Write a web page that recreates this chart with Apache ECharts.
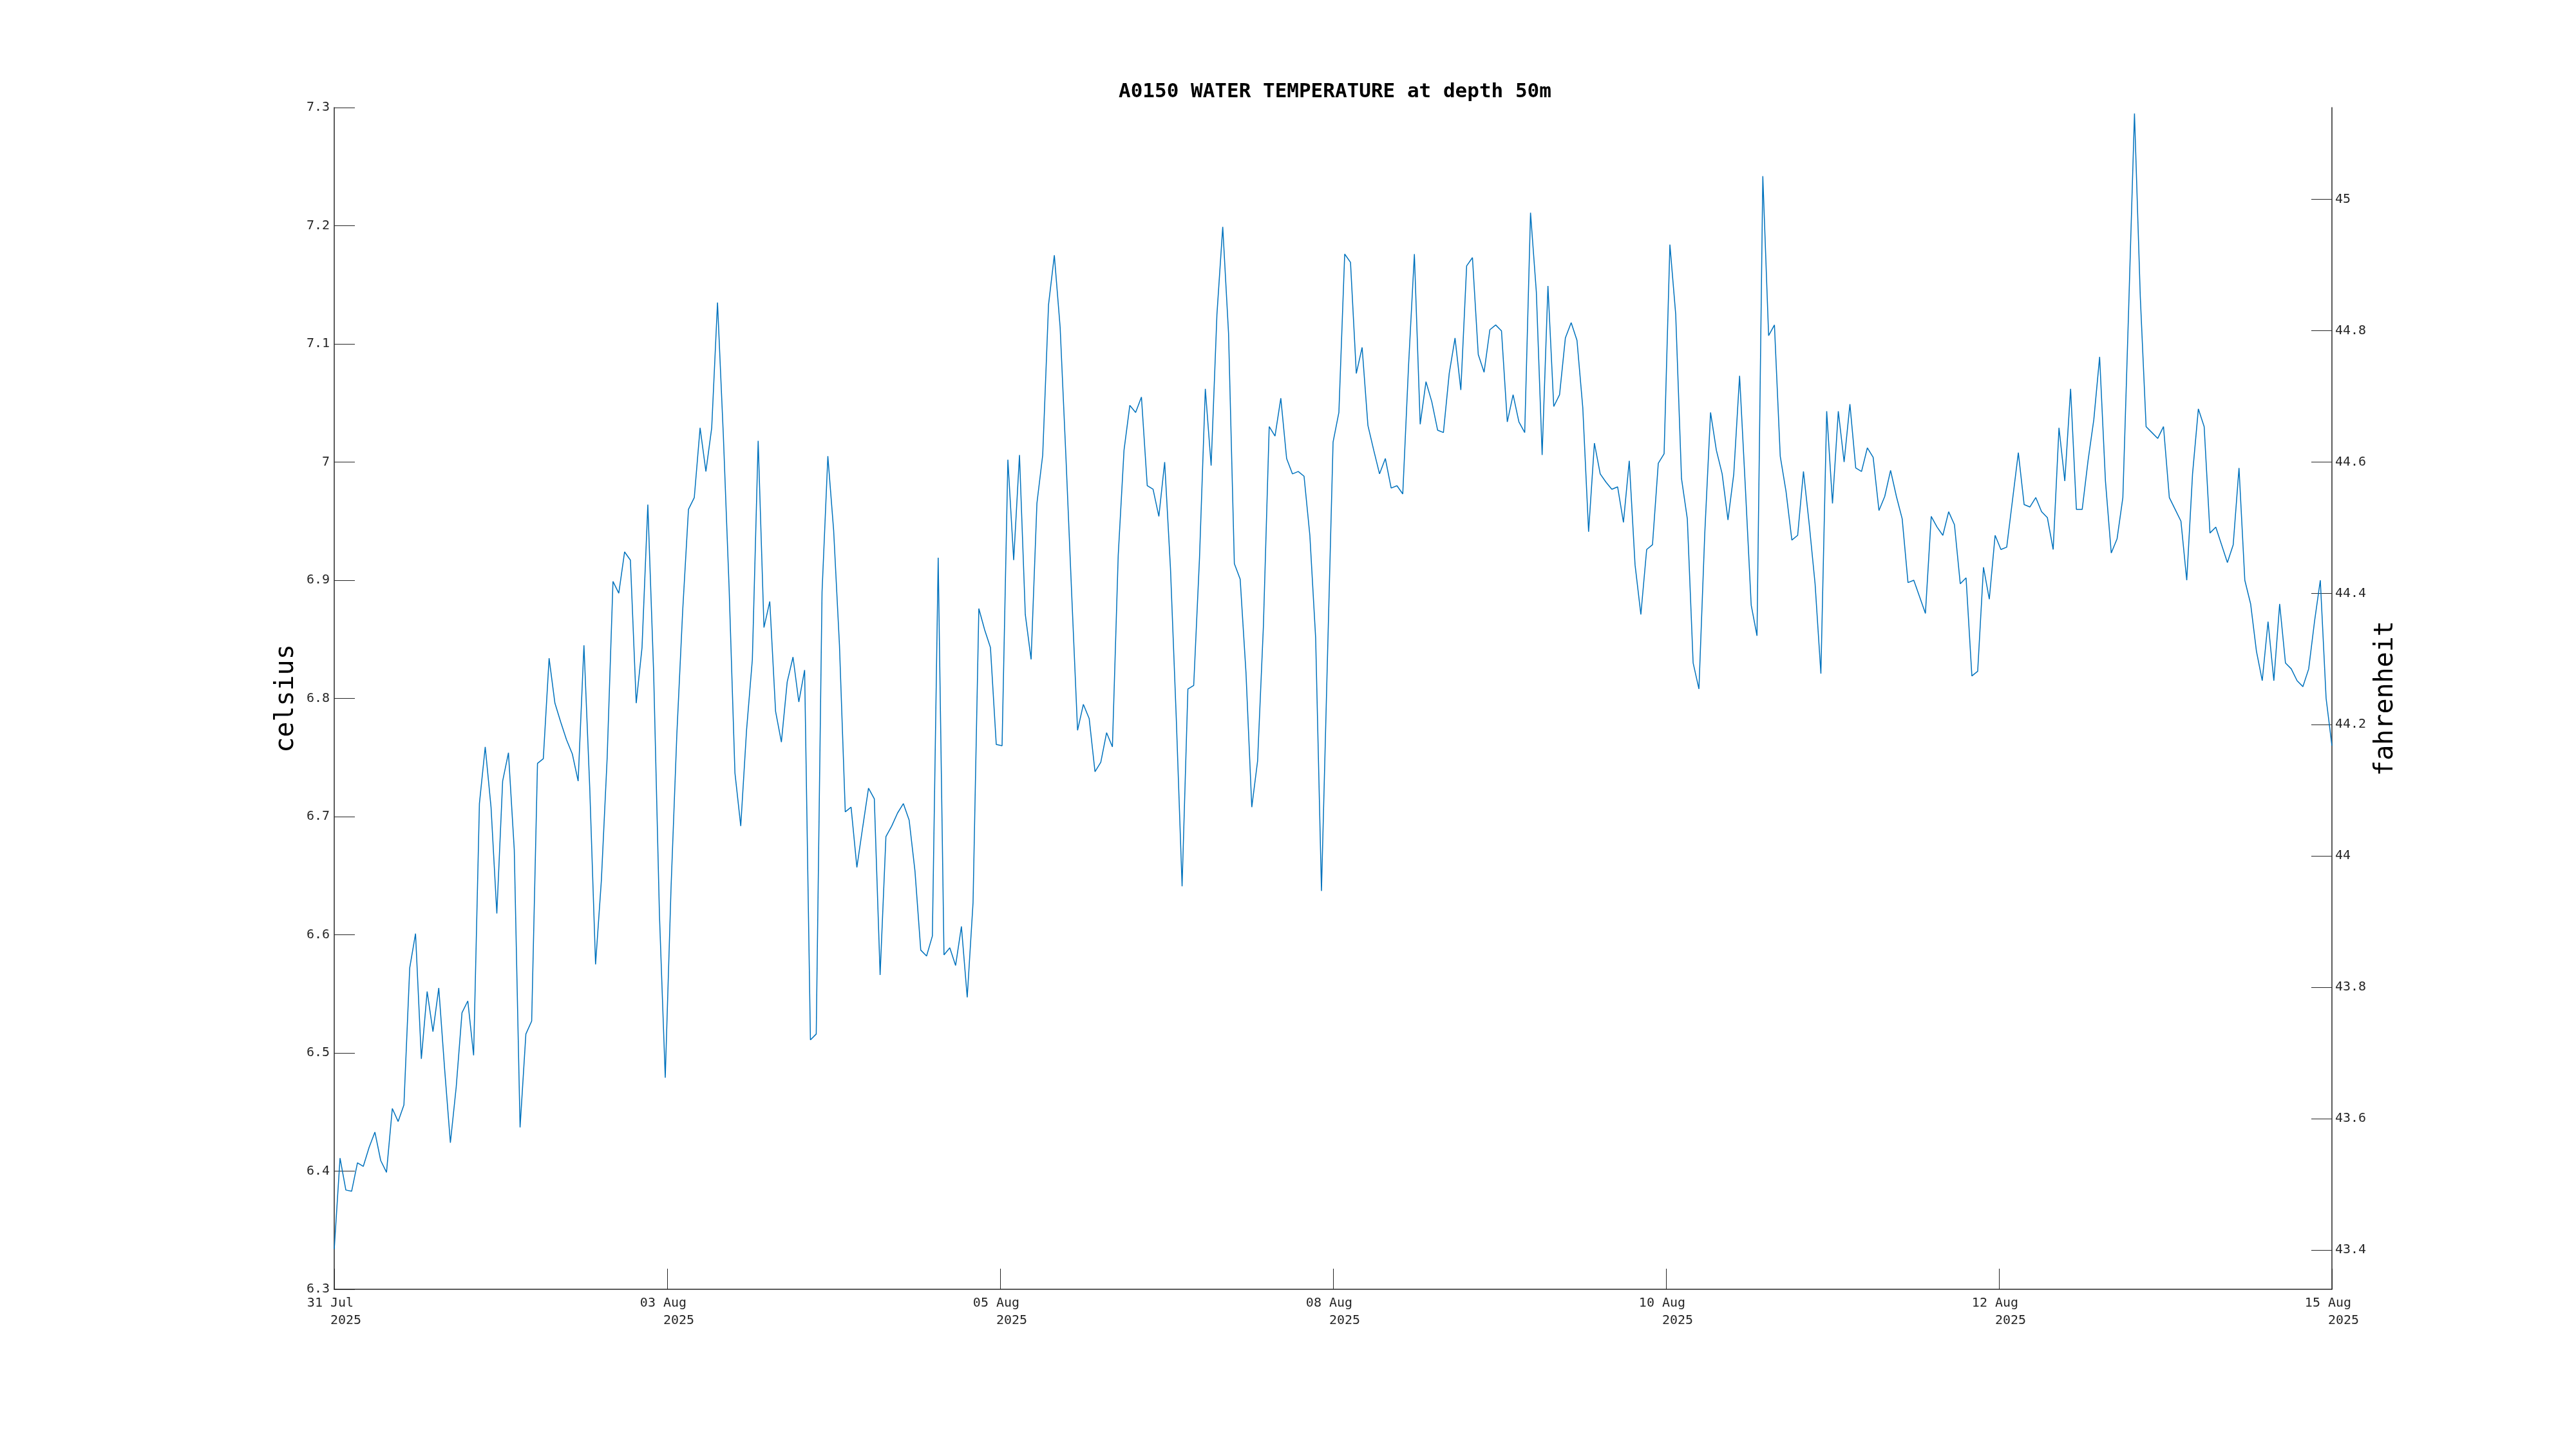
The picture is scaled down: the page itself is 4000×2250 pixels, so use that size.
<!DOCTYPE html>
<html>
<head>
<meta charset="utf-8">
<script src="https://cdn.jsdelivr.net/npm/echarts@6/dist/echarts.min.js"></script>
<style>
html,body{margin:0;padding:0;background:#fff;}
#chart{width:4000px;height:2250px;}
</style>
</head>
<body>
<div id="chart"></div>
<script>
const titleText = 'A0150 WATER TEMPERATURE at depth 50m';
const tickLabels = ['31 Jul\n2025', '03 Aug\n2025', '05 Aug\n2025', '08 Aug\n2025', '10 Aug\n2025', '12 Aug\n2025', '15 Aug\n2025'];
const fahrenheitTicks = [43.4, 43.6, 43.8, 44, 44.2, 44.4, 44.6, 44.8, 45];
const celsiusMin = 6.3;
const celsiusMax = 7.3;
const tempC = [
6.334,6.411,6.384,6.383,6.407,6.404,6.420,6.433,6.409,6.399,
6.453,6.442,6.456,6.572,6.601,6.495,6.552,6.518,6.555,6.487,
6.424,6.471,6.534,6.544,6.498,6.711,6.759,6.708,6.618,6.730,
6.754,6.672,6.437,6.516,6.527,6.745,6.749,6.834,6.796,6.780,
6.765,6.753,6.730,6.845,6.724,6.575,6.646,6.750,6.899,6.889,
6.924,6.917,6.796,6.843,6.964,6.822,6.617,6.479,6.640,6.770,
6.874,6.960,6.970,7.029,6.992,7.029,7.135,7.023,6.893,6.737,
6.692,6.773,6.833,7.018,6.860,6.882,6.789,6.763,6.814,6.835,
6.797,6.824,6.511,6.516,6.890,7.005,6.942,6.845,6.704,6.708,
6.657,6.691,6.724,6.715,6.566,6.683,6.692,6.703,6.711,6.697,
6.654,6.587,6.582,6.599,6.919,6.583,6.589,6.574,6.607,6.547,
6.627,6.876,6.858,6.843,6.761,6.760,7.002,6.917,7.006,6.871,
6.833,6.965,7.006,7.133,7.175,7.114,7.004,6.887,6.773,6.795,
6.783,6.738,6.746,6.771,6.759,6.921,7.010,7.048,7.042,7.055,
6.980,6.977,6.954,7.000,6.910,6.783,6.641,6.808,6.811,6.919,
7.062,6.997,7.125,7.199,7.109,6.914,6.901,6.822,6.708,6.747,
6.861,7.030,7.022,7.054,7.003,6.990,6.992,6.988,6.938,6.851,
6.637,6.828,7.017,7.042,7.176,7.169,7.075,7.097,7.031,7.010,
6.990,7.003,6.978,6.980,6.973,7.082,7.176,7.032,7.068,7.051,
7.027,7.025,7.075,7.105,7.061,7.166,7.173,7.091,7.076,7.112,
7.116,7.111,7.034,7.057,7.034,7.025,7.211,7.144,7.006,7.149,
7.047,7.057,7.105,7.118,7.103,7.046,6.941,7.016,6.990,6.983,
6.977,6.979,6.949,7.001,6.913,6.871,6.926,6.930,6.999,7.007,
7.184,7.125,6.986,6.952,6.830,6.808,6.939,7.042,7.010,6.990,
6.951,6.990,7.073,6.978,6.879,6.853,7.242,7.107,7.116,7.005,
6.975,6.934,6.938,6.992,6.947,6.897,6.821,7.043,6.965,7.043,
7.000,7.049,6.995,6.992,7.012,7.004,6.959,6.971,6.993,6.971,
6.952,6.898,6.900,6.886,6.872,6.954,6.945,6.938,6.958,6.947,
6.897,6.902,6.819,6.823,6.911,6.884,6.938,6.926,6.928,6.968,
7.008,6.964,6.962,6.970,6.958,6.953,6.926,7.029,6.984,7.062,
6.960,6.960,7.001,7.036,7.089,6.984,6.923,6.935,6.970,7.130,
7.295,7.140,7.030,7.025,7.020,7.030,6.970,6.960,6.950,6.900,
6.990,7.045,7.030,6.940,6.945,6.930,6.915,6.930,6.995,6.900,
6.880,6.840,6.815,6.865,6.815,6.880,6.830,6.825,6.815,6.810,
6.825,6.865,6.900,6.800,6.760
];

const MONO = '"DejaVu Sans Mono", monospace';
const AXIS_COLOR = '#262626';
const lastIndex = tempC.length - 1;
const xInterval = lastIndex / (tickLabels.length - 1);
const toF = c => c * 9 / 5 + 32;

const chart = echarts.init(document.getElementById('chart'), null, {renderer: 'canvas'});
chart.setOption({
  animation: false,
  backgroundColor: '#ffffff',
  title: {
    text: titleText,
    left: 1732,
    top: 122,
    textStyle: {fontFamily: MONO, fontWeight: 'bold', fontSize: 31, color: '#000'}
  },
  grid: {left: 519, right: 379, top: 167, bottom: 248, containLabel: false},
  xAxis: {
    type: 'value',
    min: 0,
    max: lastIndex,
    interval: xInterval,
    axisLine: {show: true, onZero: false, lineStyle: {color: AXIS_COLOR, width: 1.5}},
    axisTick: {show: true, inside: true, length: 32, lineStyle: {color: AXIS_COLOR, width: 1}},
    splitLine: {show: false},
    axisLabel: {
      show: true,
      showMinLabel: true,
      showMaxLabel: true,
      margin: 8,
      fontFamily: MONO,
      fontSize: 20,
      lineHeight: 27,
      color: AXIS_COLOR,
      formatter: function (v) {
        const lbl = tickLabels[Math.round(v / xInterval)] || '';
        const parts = lbl.split('\n');
        return parts[0] + ' \n   ' + parts[1];
      }
    }
  },
  yAxis: [
    {
      type: 'value',
      position: 'left',
      min: celsiusMin,
      max: celsiusMax,
      interval: 0.1,
      name: 'celsius',
      nameLocation: 'middle',
      nameRotate: 90,
      nameGap: 46,
      nameTextStyle: {fontFamily: MONO, fontSize: 40, color: '#000'},
      axisLine: {show: true, onZero: false, lineStyle: {color: AXIS_COLOR, width: 1.5}},
      axisTick: {show: true, inside: true, length: 32, lineStyle: {color: AXIS_COLOR, width: 1}},
      splitLine: {show: false},
      axisLabel: {
        margin: 7,
        fontFamily: MONO,
        fontSize: 20,
        color: AXIS_COLOR,
        formatter: v => String(+v.toFixed(1))
      }
    },
    {
      type: 'value',
      position: 'right',
      min: toF(celsiusMin),
      max: toF(celsiusMax),
      name: 'fahrenheit',
      nameLocation: 'middle',
      nameRotate: 90,
      nameGap: 64,
      nameTextStyle: {fontFamily: MONO, fontSize: 40, color: '#000'},
      axisLine: {show: true, onZero: false, lineStyle: {color: AXIS_COLOR, width: 1.5}},
      axisTick: {show: true, inside: true, length: 32, customValues: fahrenheitTicks, lineStyle: {color: AXIS_COLOR, width: 1}},
      splitLine: {show: false},
      axisLabel: {
        margin: 5,
        fontFamily: MONO,
        fontSize: 20,
        color: AXIS_COLOR,
        customValues: fahrenheitTicks,
        formatter: v => String(+(+v).toFixed(1))
      }
    }
  ],
  series: [{
    type: 'line',
    yAxisIndex: 0,
    data: tempC.map((v, i) => [i, v]),
    showSymbol: false,
    symbol: 'none',
    lineStyle: {color: '#0072BD', width: 1.5},
    silent: true
  }]
});
</script>
</body>
</html>
